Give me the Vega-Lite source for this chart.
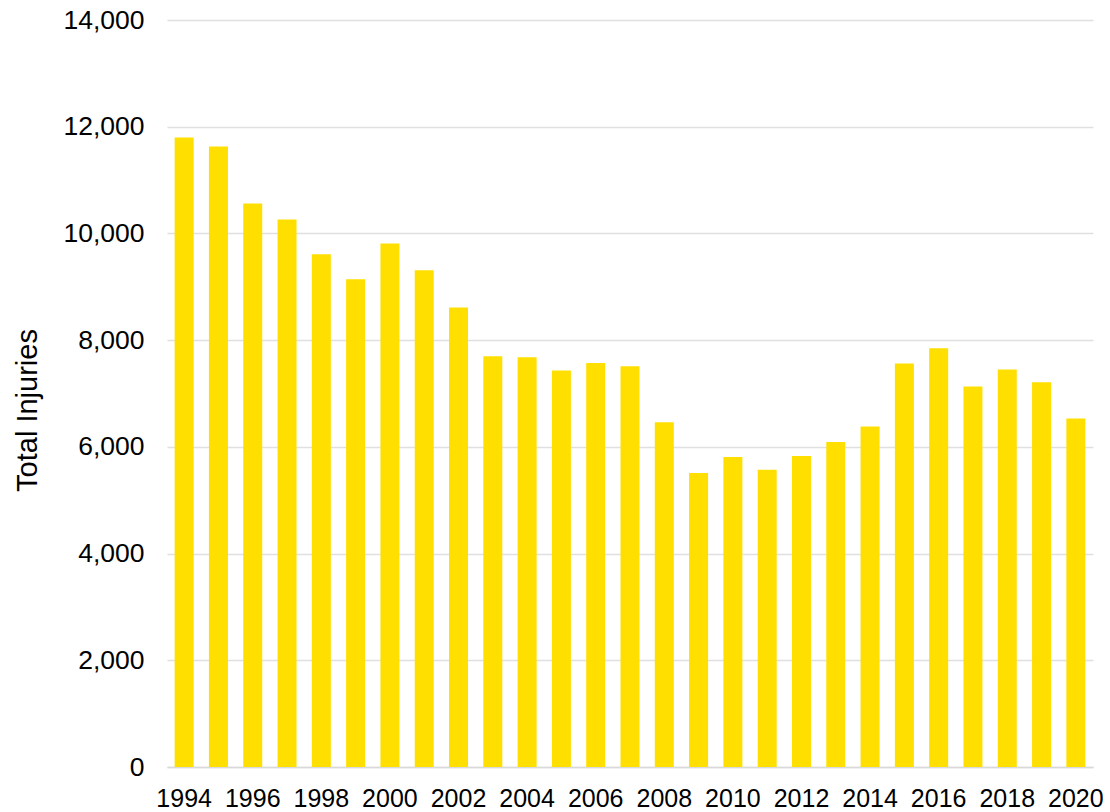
{
  "$schema": "https://vega.github.io/schema/vega-lite/v6.json",
  "width": 926,
  "height": 747,
  "autosize": {"type": "none"},
  "padding": {"left": 167, "top": 20, "right": 17, "bottom": 45},
  "background": "white",
  "config": {
    "view": {"stroke": null},
    "font": "Liberation Sans",
    "axis": {"labelFont": "Liberation Sans", "titleFont": "Liberation Sans", "labelColor": "#000000", "titleColor": "#000000"}
  },
  "data": {
    "values": [
      {"year": 1994, "injuries": 11800},
      {"year": 1995, "injuries": 11630},
      {"year": 1996, "injuries": 10560},
      {"year": 1997, "injuries": 10260},
      {"year": 1998, "injuries": 9610},
      {"year": 1999, "injuries": 9140},
      {"year": 2000, "injuries": 9810},
      {"year": 2001, "injuries": 9310},
      {"year": 2002, "injuries": 8610},
      {"year": 2003, "injuries": 7700},
      {"year": 2004, "injuries": 7680},
      {"year": 2005, "injuries": 7430},
      {"year": 2006, "injuries": 7570},
      {"year": 2007, "injuries": 7510},
      {"year": 2008, "injuries": 6460},
      {"year": 2009, "injuries": 5510},
      {"year": 2010, "injuries": 5810},
      {"year": 2011, "injuries": 5570},
      {"year": 2012, "injuries": 5830},
      {"year": 2013, "injuries": 6090},
      {"year": 2014, "injuries": 6380},
      {"year": 2015, "injuries": 7560},
      {"year": 2016, "injuries": 7850},
      {"year": 2017, "injuries": 7130},
      {"year": 2018, "injuries": 7450},
      {"year": 2019, "injuries": 7210},
      {"year": 2020, "injuries": 6530}
    ]
  },
  "mark": {"type": "bar", "color": "#FFDF00"},
  "encoding": {
    "x": {
      "field": "year",
      "type": "ordinal",
      "scale": {"paddingInner": 0.446, "paddingOuter": 0.223},
      "axis": {
        "title": null,
        "labelAngle": 0,
        "labelFontSize": 25,
        "labelPadding": 19,
        "ticks": false,
        "domainColor": "#D9D9D9",
        "domainWidth": 1.5,
        "labelExpr": "datum.value % 2 == 0 ? datum.label : ''",
        "labelOverlap": false,
        "grid": false
      }
    },
    "y": {
      "field": "injuries",
      "type": "quantitative",
      "scale": {"domain": [0, 14000], "nice": false},
      "axis": {
        "title": "Total Injuries",
        "titleFontSize": 29,
        "titleFontWeight": "normal",
        "titlePadding": 20,
        "titleY": 390,
        "values": [0, 2000, 4000, 6000, 8000, 10000, 12000, 14000],
        "format": ",d",
        "labelFontSize": 26.5,
        "labelPadding": 23,
        "ticks": false,
        "domain": false,
        "gridColor": "#E0E0E0",
        "gridWidth": 1.5
      }
    }
  }
}
